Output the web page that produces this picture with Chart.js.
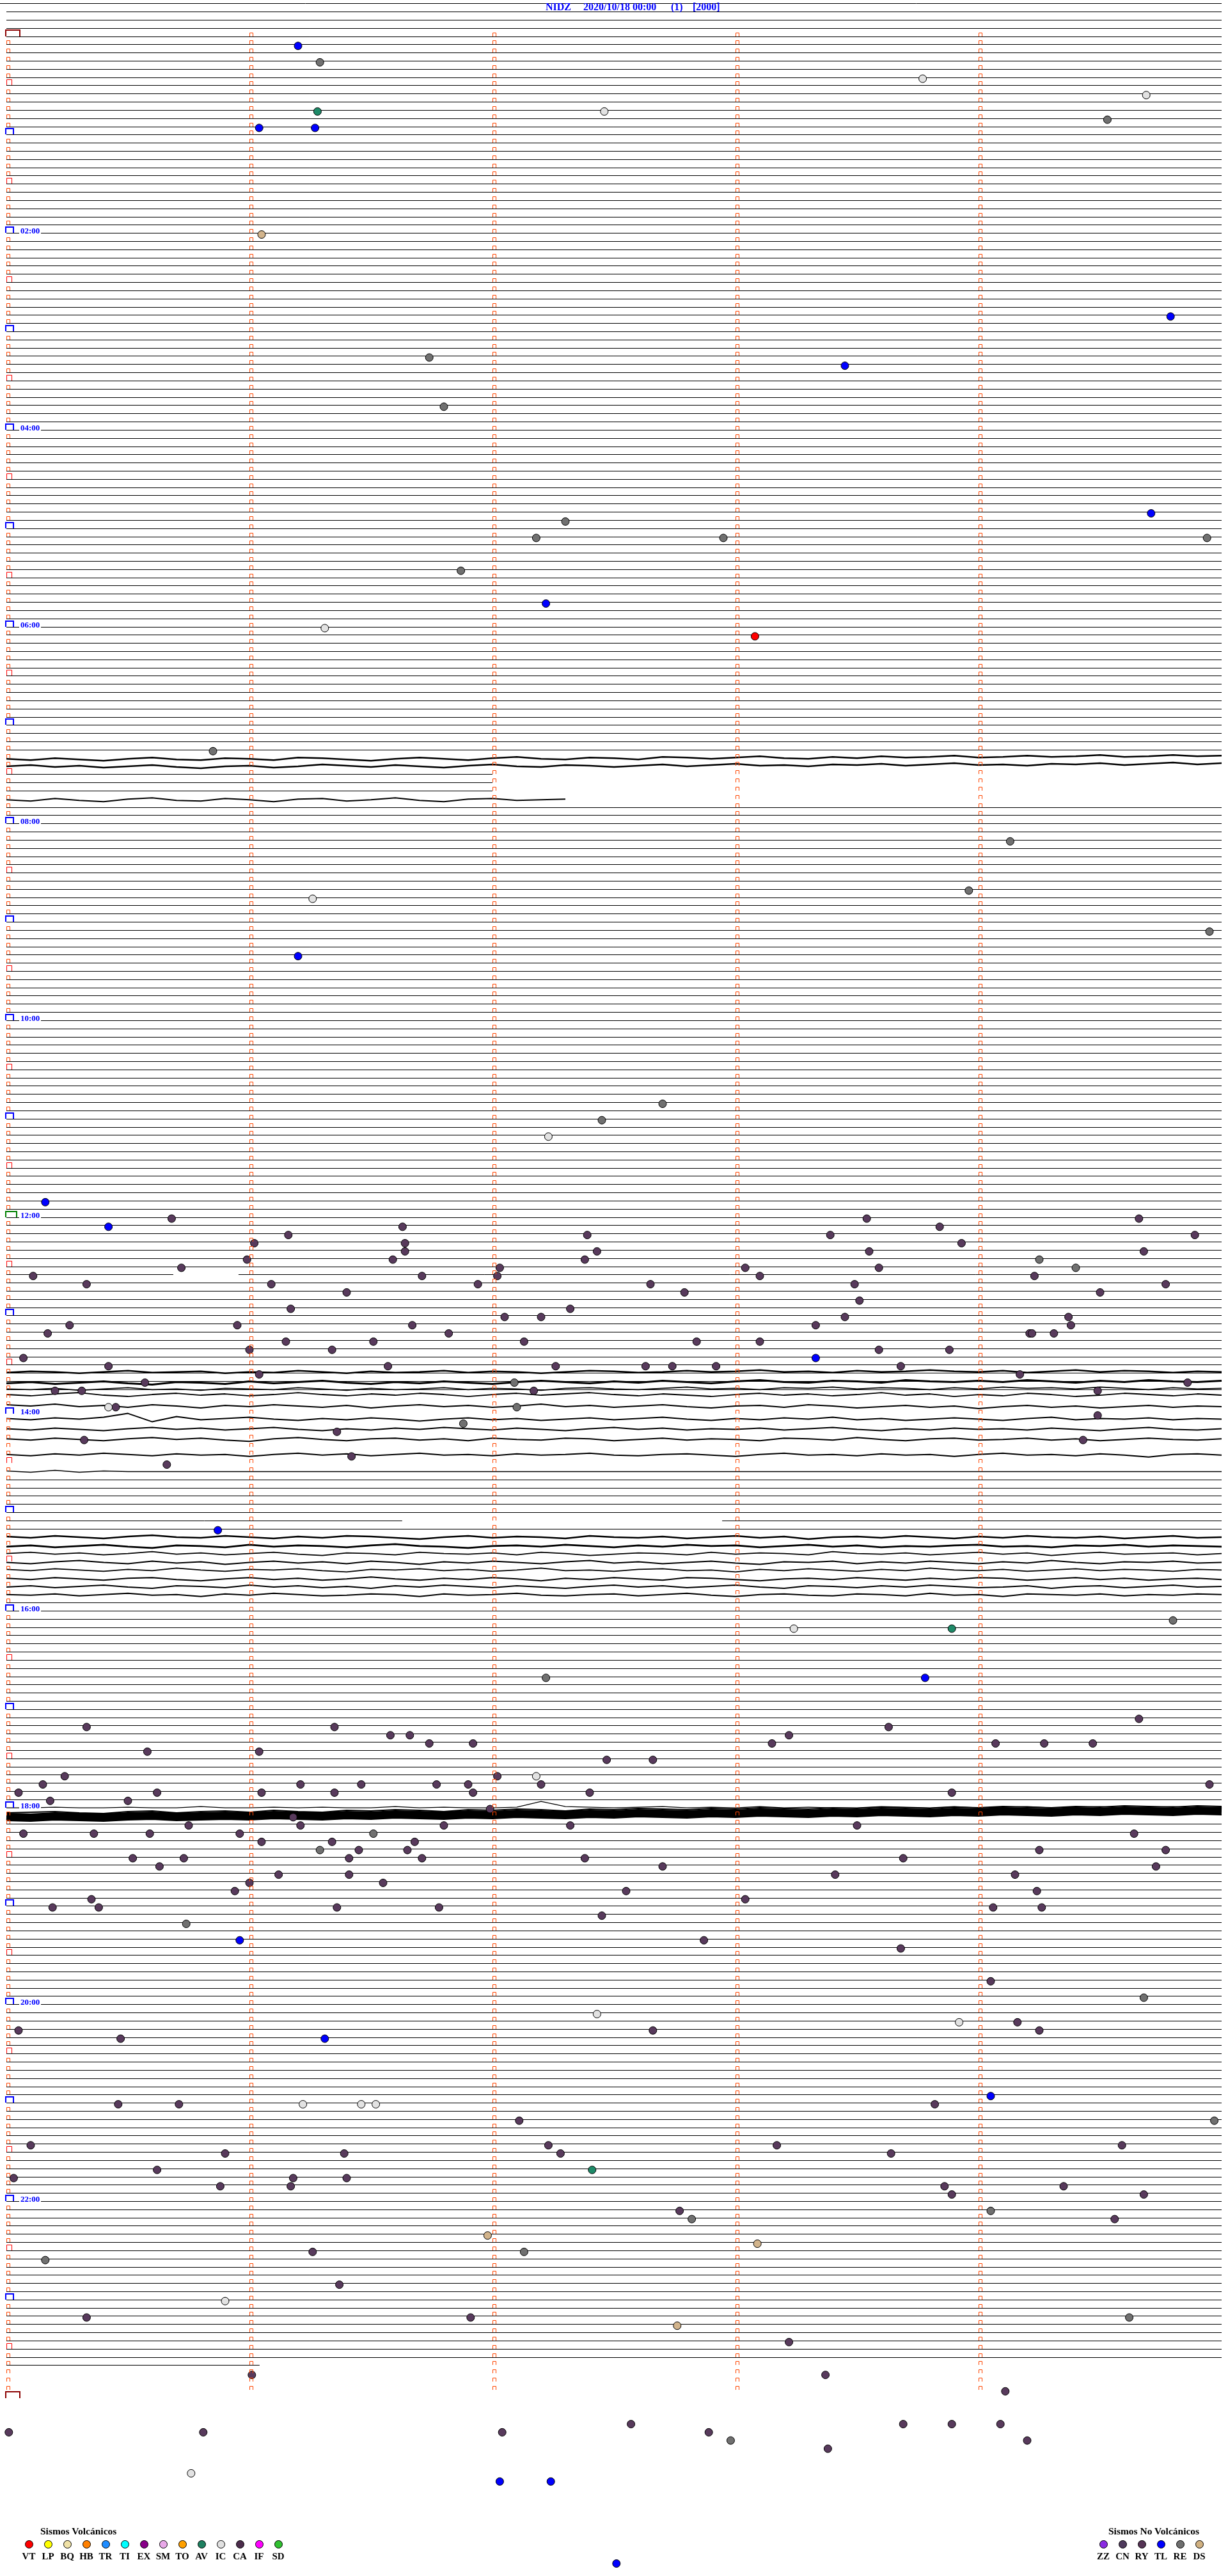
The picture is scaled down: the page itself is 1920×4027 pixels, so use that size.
<!DOCTYPE html>
<html lang="es">
<head>
  <meta charset="UTF-8">
  <title>NIDZ 2020/10/18 00:00</title>
  <script src="https://cdn.jsdelivr.net/npm/chart.js"></script>
  <style>
    html, body { margin: 0; padding: 0; background: #fff; }
    #sheet { position: relative; width: 1920px; height: 4027px; overflow: hidden; }
    #heli { position: absolute; left: 0; top: 0; }
    .lbl { position: absolute; font-family: "Liberation Serif", "DejaVu Serif", serif; white-space: pre; }
    .title { color: #0000ff; font-weight: bold; font-size: 16px; line-height: 16px; }
    .hour { color: #0000ff; font-weight: bold; font-size: 13px; line-height: 13px; background: #fff; padding: 0 2px; }
    .legHead { color: #000; font-weight: bold; font-size: 15.5px; line-height: 16px; }
    .legTxt { color: #000; font-weight: bold; font-size: 15px; line-height: 15px; width: 40px; text-align: center; }
    .legDot { position: absolute; width: 11px; height: 11px; border: 1px solid #000; border-radius: 50%; }
  </style>
</head>
<body>
<div id="sheet">
  <canvas id="heli" width="1920" height="4027"></canvas>
</div>

<script>
  // --- helicorder NIDZ, one line = 5 minutes, 288 lines a day ---
  const stationName = 'NIDZ';
  const startLabel = '2020/10/18 00:00';
  const extraTitle = ['(1)', '[2000]'];
  const firstRow = -4;            // lines left from the day before
  const lastRow = 284;            // 23:40, line still being written
  const lastRowEndSec = 62.5;
  const markRows = 288;           // minute marks go on to 24:00
  const hourLabels = ['02:00', '04:00', '06:00', '08:00', '10:00', '12:00',
                      '14:00', '16:00', '18:00', '20:00', '22:00'];

  // breaks in a line: [row, from sec, to sec]
  const traceGaps = [[151, 41.2, 57.3], [181, 97.7, 176.7],
                     [90, 120, 300], [91, 120, 300], [92, 120, 300]];
  const missingRows = [168, 172, 174];

  // noisy stretches: offset from the line in pixels, one value every 6 s
  const wave088 = [1,3,0,2,4,1,-1,2,3,0,1,3,-1,0,2,4,1,-1,1,3,0,-2,1,2,-1,0,2,-2,-1,1,-1,-3,0,1,-2,0,-3,-1,-2,-4,-1,-2,-4,-2,-3,-5,-2,-3,-5,-3,-4];
  const wave089 = [0,-2,1,-1,2,0,-2,1,3,0,-1,2,0,-3,-1,1,-2,0,2,-1,-3,0,1,-2,-1,1,-1,-3,0,-2,-4,-1,-2,0,-3,-2,-4,-1,-3,-5,-2,-3,-1,-4,-3,-5,-2,-4,-6,-3,-5];
  const wave093 = [1,3,-1,2,4,0,-2,2,3,-1,1,4,0,-1,3,1,-2,2,4,0,-1,2,1,0];
  const wave163 = [-1,-3,-2,0,-2,-4,-1,-2,-3,0,-2,-1,-4,-2,0,-3,-1,-2,-4,-1,-3,-2,0,-2,-4,-3,-1,-2,-4,-2,-3,-5,-2,-3,-1,-4,-2,-3,-5,-3,-2,-4,-1,-3,-5,-2,-4,-3,-1,-3,-2];
  const wave164 = [3,1,4,2,0,3,5,1,2,4,0,3,1,-1,2,4,1,3,0,2,4,1,-1,1,3,0,2,-1,1,3,0,-2,1,2,-1,0,2,-2,0,1,-1,1,-2,0,2,-1,1,-2,0,1,-1];
  const wave165 = [-1,0,-2,1,-1,-3,0,-1,1,-2,-1,0,-3,-1,1,-2,0,-1,-3,0,-2,-1,1,-2,-3,-1,0,-2,-4,-1,-2,0,-3,-2,-4,-1,-3,-2,0,-3,-1,-4,-2,-3,-1,-4,-2,0,-3,-1,-2];
  const wave166 = [-5,-3,-6,-8,-4,-2,-5,-7,-4,-6,-3,-5,-8,-5,-3,-6,-4,-7,-5,-2,-5,-7,-4,-6,-8,-5,-3,-6,-4,-2,-5,-7,-4,-6,-3,-5,-8,-4,-6,-2,-5,-3,-7,-5,-2,-4,-7,-5,-3,-6,-4];
  const wave167 = [-2,0,-3,1,-1,2,-2,0,3,-1,1,-2,0,2,-1,3,0,-2,1,-1,2,0,-3,1,-1,2,0,-2,1,3,0,-1,2,-2,0,3,1,-1,2,0,4,1,-1,2,0,3,1,-1,2,0,1];
  const wave169 = [-6,-4,-7,-5,-8,-14,-1,-9,-4,-6,-8,-5,-3,-6,-4,-7,-5,-2,-5,-7,-4,-6,-3,-5,-7,-4,-6,-8,-5,-3,-6,-4,-7,-5,-8,-4,-6,-3,-5,-7,-5,-3,-6,-8,-4,-6,-5,-7,-4,-6,-5];
  const wave170 = [-3,-1,-4,-2,0,-3,-5,-2,-4,-1,-3,-5,-2,0,-3,-1,-4,-2,-5,-3,-1,-4,-2,0,-3,-5,-2,-4,-1,-3,-2,-4,-1,-3,-5,-2,0,-3,-1,-4,-2,-3,-1,-4,-2,0,-3,-5,-2,-1,-3];
  const wave171 = [0,2,-1,1,3,0,-2,1,-1,2,4,0,-2,1,3,0,-1,2,0,3,-1,1,2,-1,0,3,1,-1,2,0,1,3,-1,0,2,-2,1,3,0,-1,2,1,-1,2,0,3,1,-1,1,2,0];
  const wave173 = [-1,1,-2,0,-3,-1,1,-2,0,-1,2,-1,-3,0,-2,1,-1,-3,0,-1,1,-2,0,-1,-3,0,1,-1,-2,0,2,-1,-3,0,-1,1,-2,0,-1,2,-1,-3,0,-1,1,-2,0,3,-1,-2,0];
  const wave175 = [-1,1,-2,1,-1,0,0,0,0,0,0,0,0,0,0,0,0,0,0,0,0,0,0,0,0,0,0,0,0,0,0,0,0,0,0,0,0,0,0,0,0,0,0,0,0,0,0,0,0,0,0];
  const wave183 = [-1,1,-2,0,2,-1,-3,0,1,-2,0,2,-1,1,-2,-1,1,3,0,-2,1,-1,0,2,-2,0,1,-1,2,0,-2,1,-1,3,0,-1,1,-2,0,2,-1,1,-2,0,1,-1,2,0,-2,1,0];
  const wave184 = [2,0,3,1,-1,2,4,0,1,3,-1,2,0,1,3,0,-2,1,2,4,1,0,2,-1,1,3,0,2,-1,1,0,3,1,-1,2,0,3,1,2,0,-1,2,1,3,0,1,-1,2,0,1,2];
  const wave185 = [0,-2,1,-1,2,0,-3,1,-1,2,0,-2,1,3,-1,0,2,-2,0,1,-1,2,-2,0,3,1,-1,0,2,-2,1,-1,0,2,-3,0,1,-1,2,0,-2,1,-1,3,0,-2,1,0,-1,2,0];
  const wave186 = [1,3,0,-2,1,3,-1,2,0,4,1,-1,2,0,3,-1,1,4,0,2,-1,1,3,0,-2,2,0,3,1,-1,2,4,0,1,-1,3,0,2,-1,1,3,0,2,-2,1,3,0,1,-1,2,1];
  const wave187 = [-1,1,-2,0,2,-1,1,-3,0,2,-1,0,-2,1,3,-1,0,-2,1,-1,2,0,-3,1,0,2,-1,-2,1,0,3,-1,1,-2,0,2,-1,1,-3,0,1,-1,2,0,-2,1,-1,0,2,-1,0];
  const wave188 = [0,2,-1,1,3,0,-1,2,4,1,-1,2,0,3,1,-2,1,3,0,2,-1,1,4,0,2,-1,1,3,-1,0,2,4,1,0,2,-1,1,3,0,2,-1,0,3,1,-1,2,0,3,1,0,2];
  const wave189 = [1,-1,2,0,-2,1,3,-1,0,2,-2,1,-1,2,0,3,-1,1,-2,0,2,-1,1,3,0,-2,1,-1,2,0,-2,1,3,-1,0,2,-1,1,-2,0,2,1,-1,3,0,-1,2,0,-2,1,0];
  const wave190 = [0,1,-1,2,0,-2,1,0,3,-1,1,-2,0,2,1,-1,0,3,-1,1,0,-2,1,2,0,-1,2,0,-2,1,3,0,-1,1,2,-1,0,2,-2,1,0,3,-1,0,1,-1,2,0,1,-1,0];
  const wave216 = [0,0,-1,0,0,-1,0,0,-2,0,0,-1,0,-1,0,0,-2,0,-1,0,0,-1,-10,-2,-1,0,-1,-2,0,-1,0,-2,0,-1,0,0,-2,-1,0,-2,0,-1,-2,0,-1,-2,0,-1,-2,0,-1];
  const wave217 = [1,2,0,1,2,0,-1,1,0,-1,0,-2,-1,0,-2,-1,-3,-2,-1,-3,-2,-4,-3,-2,-4,-3,-5,-4,-3,-5,-4,-6,-5,-4,-6,-5,-7,-6,-5,-7,-6,-8,-7,-6,-8,-7,-9,-8,-7,-9,-8];
  const wave217top = [-5,-6,-7,-5,-4,-7,-8,-5,-7,-8,-6,-9,-7,-6,-9,-8,-10,-9,-7,-10,-9,-11,-10,-8,-11,-10,-12,-11,-10,-12,-11,-13,-12,-11,-13,-12,-14,-13,-12,-14,-13,-15,-14,-13,-15,-14,-16,-15,-14,-16,-15];
  const wave217low = [7,8,6,7,8,6,5,7,6,5,6,4,5,6,4,5,3,4,5,3,4,2,3,4,2,3,1,2,3,1,2,0,1,2,0,1,-1,0,1,-1,0,-2,-1,0,-2,-1,-3,-2,-1,-3,-2];
  // [row, offsets, line width]
  const waveRows = [
    [88, wave088, 2.5], [89, wave089, 2.5], [93, wave093, 2.2],
    [163, wave163, 2.5], [164, wave164, 3], [165, wave165, 1.8], [166, wave166, 2],
    [167, wave167, 2], [169, wave169, 2], [170, wave170, 2], [171, wave171, 2],
    [173, wave173, 2], [175, wave175, 1.5],
    [183, wave183, 2.6], [184, wave184, 2.6], [185, wave185, 1.8], [186, wave186, 2],
    [187, wave187, 1.8], [188, wave188, 2], [189, wave189, 1.8], [190, wave190, 2],
    [216, wave216, 1.2], [217, wave217, 12], [217, wave217top, 2], [217, wave217low, 2]
  ];
  const keepBaseline = [163, 164, 165];

  // events, minutes after 00:00
  const evVT = [368.08];
  const evAV = [46.28, 973.89, 1302.41];
  const evIC = [28.77, 39.69, 47.46, 361.31, 526.26, 672.23, 835.42, 973.24, 1062.18,
                1207.43, 1213.92, 1261.22, 1261.46, 1261.52, 1380.90, 1485.76];
  const evTL = [6.20, 56.04, 56.27, 174.79, 203.45, 294.71, 347.22, 561.20, 710.16, 725.42,
                808.33, 910.87, 1003.78, 1160.96, 1221.31, 1259.05, 1492.03, 1492.24, 1542.51];
  const evRE = [16.29, 54.53, 196.74, 226.80, 297.30, 307.18, 307.95, 309.94, 326.87, 435.85,
                494.13, 523.96, 549.95, 652.70, 662.45, 749.25, 754.40, 822.09, 837.10, 846.88,
                969.80, 1002.22, 1096.51, 1106.29, 1150.74, 1199.68, 1274.97, 1329.05, 1332.82,
                1352.13, 1355.16, 1394.62, 1467.98];
  const evDS = [121.05, 1341.98, 1348.09, 1397.76];
  const evCA = [
    720.68, 723.54, 724.66, 726.63, 728.84, 731.16, 732.39, 733.39, 734.89, 736.02, 736.64,
    738.93, 741.64, 742.43, 743.55, 744.68, 745.99, 746.59, 747.38, 750.72, 752.03, 753.04,
    753.59, 755.11, 756.71, 757.02, 758.10, 759.23, 760.33, 761.09, 761.94, 762.65, 763.49,
    764.77, 766.40, 767.79, 769.50, 773.51, 776.17, 777.32, 782.05, 782.20, 783.45, 784.37,
    785.26, 785.95, 786.67, 788.33, 789.38, 790.17, 791.82, 794.21, 794.22, 794.31, 796.15,
    796.51, 797.13, 797.84, 798.10, 801.00, 801.34, 803.59, 803.88, 805.07, 810.42, 811.57,
    812.26, 812.63, 812.74, 812.92, 813.68, 816.04, 819.17, 820.57, 824.86, 825.20, 825.31,
    827.17, 829.49, 835.45, 844.49, 851.36, 855.32, 859.43, 866.42, 870.66,
    1029.66, 1030.33, 1031.35, 1033.63, 1036.58, 1036.66, 1038.22, 1041.74, 1041.92, 1043.15,
    1044.07, 1044.27, 1044.47, 1045.58, 1046.04, 1052.47, 1052.66, 1060.24, 1062.02, 1065.15,
    1066.21, 1066.46, 1066.77, 1066.90, 1067.20, 1069.95, 1070.05, 1070.62, 1071.05, 1071.35,
    1071.92, 1072.40, 1073.89, 1075.18, 1075.50, 1081.99, 1086.18, 1090.75, 1091.21, 1091.80,
    1092.32, 1093.50, 1095.07, 1095.36, 1095.59, 1095.96, 1099.64, 1101.05, 1101.34, 1101.68,
    1106.45, 1106.65, 1109.25, 1109.77, 1110.52, 1110.73, 1111.41, 1111.71, 1112.38, 1113.69,
    1115.63, 1117.70, 1119.73, 1121.12, 1121.41, 1123.41, 1124.15, 1126.00, 1126.55, 1130.94,
    1132.55, 1134.24, 1135.35, 1138.04, 1140.19, 1140.38, 1141.36, 1141.78, 1144.06, 1144.26,
    1147.45, 1162.87, 1168.68,
    1189.05, 1214.16, 1215.05, 1217.66, 1219.25, 1220.47, 1260.46, 1260.71, 1263.82, 1272.11,
    1285.10, 1287.23, 1288.17, 1289.59, 1290.90, 1291.39, 1292.28, 1293.64, 1300.62, 1305.03,
    1306.18, 1306.40, 1310.88, 1311.17, 1313.86, 1314.35, 1318.89, 1319.68, 1327.77, 1334.56,
    1351.26, 1371.37, 1390.33, 1391.91, 1408.22, 1426.01, 1428.37, 1439.11, 1457.57, 1458.69,
    1458.89, 1459.09, 1460.01, 1460.81, 1462.04, 1462.89, 1469.20, 1473.38
  ];

  // legend
  const volcTypes = ['VT', 'LP', 'BQ', 'HB', 'TR', 'TI', 'EX', 'SM', 'TO', 'AV', 'IC', 'CA', 'IF', 'SD'];
  const volcColors = ['#ff0000', '#ffff00', '#efe1a6', '#ff8000', '#1e8cff', '#00ffff', '#880088',
                      '#e8a8e8', '#ffa000', '#1e8060', '#e0e0e0', '#4c2c4c', '#ff00ff', '#30c030'];
  const nonVolcTypes = ['ZZ', 'CN', 'RY', 'TL', 'RE', 'DS'];
  const nonVolcColors = ['#8a2be2', '#4e3a5c', '#553355', '#0000ff', '#6e6e6e', '#d0b080'];

  const eventSets = [
    ['VT', evVT, '#ff0000'],
    ['AV', evAV, '#1e8a68'],
    ['IC', evIC, '#e2e2e2'],
    ['TL', evTL, '#0000ff'],
    ['RE', evRE, '#707070'],
    ['DS', evDS, '#d2b48c'],
    ['CA', evCA, '#583a5c']
  ];

  // ---------------------------------------------------------------
  const yMin = -4.4462, yMax = 309.672;
  const pxPerRow = 4027 / (yMax - yMin);
  // put a flat line on a pixel centre so it stays one sharp pixel
  const snapRow = r => (Math.floor((r - yMin) * pxPerRow) + 0.5) / pxPerRow + yMin;
  const datasets = [];

  eventSets.forEach(([name, times, color]) => {
    datasets.push({
      label: name,
      data: times.map(t => {
        const row = Math.floor(t / 5);
        return { x: (t - row * 5) * 60, y: row + 0.15 };
      }),
      showLine: false,
      pointRadius: 6,
      pointBorderWidth: 1,
      pointBackgroundColor: color,
      pointBorderColor: '#000',
      order: 0
    });
  });

  const waveRowNums = waveRows.map(w => w[0]);
  for (let r = firstRow; r <= lastRow; r++) {
    if (missingRows.includes(r)) continue;
    if (waveRowNums.includes(r) && !keepBaseline.includes(r)) continue;
    const start = r === firstRow ? -1.58 : 0;
    const end = r === lastRow ? lastRowEndSec : 300;
    let pieces = [[start, end]];
    traceGaps.filter(g => g[0] === r).forEach(g => {
      pieces = pieces.flatMap(([a, b]) => [[a, g[1]], [g[2], b]]);
    });
    const ry = snapRow(r);
    pieces.forEach(([a, b]) => {
      datasets.push({
        label: 'row ' + r,
        data: [{ x: a, y: ry }, { x: b, y: ry }],
        showLine: true,
        pointRadius: 0,
        borderColor: '#000',
        borderWidth: 1,
        order: 1
      });
    });
  }

  waveRows.forEach(([r, offs, w]) => {
    datasets.push({
      label: 'wave ' + r,
      data: offs.map((v, i) => ({ x: i * 6, y: r + v / pxPerRow })),
      showLine: true,
      pointRadius: 0,
      borderColor: '#000',
      borderWidth: w,
      borderJoinStyle: 'round',
      order: 1
    });
  });

  // minute marks and hour brackets on the lines
  function bracket(ctx, x0, yLine, w, h, color, lw) {
    const o = lw === 1 ? 0.5 : 0;
    ctx.strokeStyle = color;
    ctx.lineWidth = lw;
    ctx.beginPath();
    ctx.moveTo(x0 + o, yLine);
    ctx.lineTo(x0 + o, yLine - h + o);
    ctx.lineTo(x0 + w - o, yLine - h + o);
    ctx.lineTo(x0 + w - o, yLine);
    ctx.stroke();
  }

  const markPlugin = {
    id: 'marks',
    afterDatasetsDraw(chart) {
      const { ctx, scales: { x, y } } = chart;
      ctx.save();
      for (let r = 0; r <= markRows; r++) {
        const py = Math.floor(y.getPixelForValue(r));
        if (r < markRows) {
          for (let m = 1; m < 5; m++) {
            const px = Math.round(x.getPixelForValue(m * 60));
            bracket(ctx, px, py, 6, 6, '#ff4500', 1);
          }
        }
        const x0 = Math.round(x.getPixelForValue(0));
        if (r === 0 || r === markRows) bracket(ctx, x0 - 1, py, 22, 10, '#8b0000', 2);
        else if (r === 144) bracket(ctx, x0 - 1, py, 17, 9, '#008000', 2);
        else if (r % 12 === 0) bracket(ctx, x0 - 1, py, 12, 9, '#0000ff', 2);
        else if (r % 6 === 0) bracket(ctx, x0, py, 9, 9, '#ff0000', 1);
        else bracket(ctx, x0, py, 6, 6, '#ff4500', 1);
      }
      ctx.restore();
    }
  };

  const chart = new Chart(document.getElementById('heli'), {
    type: 'scatter',
    data: { datasets },
    options: {
      responsive: false,
      animation: false,
      devicePixelRatio: 1,
      events: [],
      layout: { padding: 0, autoPadding: false },
      plugins: { legend: { display: false }, tooltip: { enabled: false }, title: { display: false } },
      scales: {
        x: { type: 'linear', min: -1.5789, max: 301.5789, display: false },
        y: { type: 'linear', reverse: true, min: yMin, max: yMax, display: false }
      }
    },
    plugins: [markPlugin]
  });

  // ---- text on top of the chart ----
  const sheet = document.getElementById('sheet');
  function addText(cls, text, left, top) {
    const d = document.createElement('div');
    d.className = 'lbl ' + cls;
    d.textContent = text;
    d.style.left = left + 'px';
    d.style.top = top + 'px';
    sheet.appendChild(d);
    return d;
  }

  addText('title', stationName, 853, 3.4);
  addText('title', startLabel, 912, 3.4);
  addText('title', extraTitle[0], 1049, 3.4);
  addText('title', extraTitle[1], 1083, 3.4);

  hourLabels.forEach(h => {
    const row = parseInt(h, 10) * 12;
    const py = chart.scales.y.getPixelForValue(row);
    addText('hour', h, 30, Math.floor(py) - 10);
  });

  function addLegend(title, titleX, types, colors, firstX) {
    addText('legHead', title, titleX, 3949);
    types.forEach((t, i) => {
      const cx = firstX + i * 30;
      const dot = document.createElement('div');
      dot.className = 'legDot';
      dot.style.left = (cx - 6.5) + 'px';
      dot.style.top = '3970.5px';
      dot.style.background = colors[i];
      sheet.appendChild(dot);
      addText('legTxt', t, cx - 20, 3989);
    });
  }
  addLegend('Sismos Volcánicos', 63, volcTypes, volcColors, 45);
  addLegend('Sismos No Volcánicos', 1733, nonVolcTypes, nonVolcColors, 1725);
</script>
</body>
</html>
